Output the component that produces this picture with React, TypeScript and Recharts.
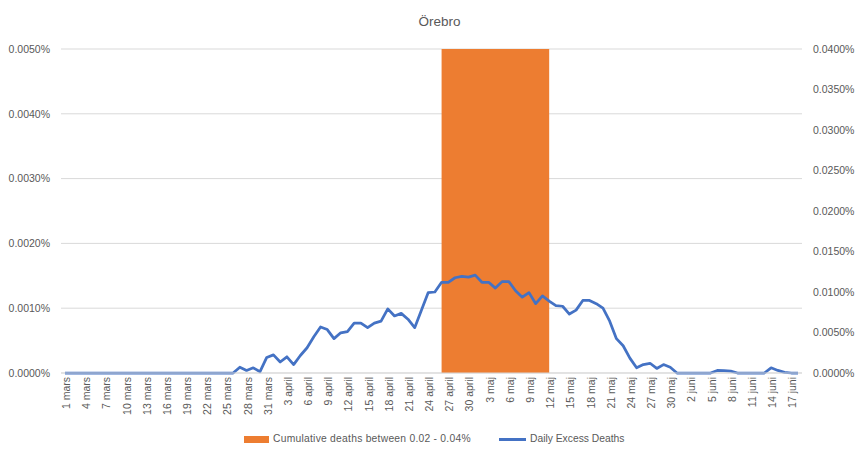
import {
  ComposedChart,
  Area,
  Line,
  XAxis,
  YAxis,
  CartesianGrid,
} from "recharts";

const FONT = '"Liberation Sans", Arial, sans-serif';
const TEXT = "#595959";
const GRID = "#d9d9d9";
const ORANGE = "#ED7D31";
const BLUE = "#4472C4";

// months shown on the x axis and how many days of each
const MONTHS: [string, number][] = [
  ["mars", 31],
  ["april", 30],
  ["maj", 31],
  ["juni", 18],
];
const days = MONTHS.flatMap(([m, n]) =>
  Array.from({ length: n }, (_, i) => `${i + 1} ${m}`)
);

// daily excess deaths, per 100 000 (1 = 0.0010%)
const excessPer100k = [
  0, 0, 0, 0, 0, 0, 0, 0, 0, 0,
  0, 0, 0, 0, 0, 0, 0, 0, 0, 0,
  0, 0, 0, 0, 0, 0, 0.09, 0.04, 0.08, 0.02,
  0.24, 0.28, 0.17, 0.25, 0.13, 0.27, 0.39, 0.56, 0.71, 0.67,
  0.53, 0.62, 0.64, 0.77, 0.77, 0.7, 0.77, 0.8, 0.99, 0.88,
  0.92, 0.83, 0.7, 0.97, 1.24, 1.25, 1.4, 1.4, 1.47, 1.49,
  1.48, 1.51, 1.4, 1.4, 1.31, 1.41, 1.41, 1.27, 1.17, 1.24,
  1.07, 1.19, 1.11, 1.04, 1.03, 0.91, 0.97, 1.12, 1.12, 1.07,
  1.0, 0.8, 0.53, 0.42, 0.23, 0.08, 0.13, 0.15, 0.07, 0.13,
  0.09, 0, 0, 0, 0, 0, 0, 0.04, 0.035, 0.03,
  0, 0, 0, 0, 0, 0.08, 0.04, 0.01, 0, 0,
];

// days where cumulative deaths were between 0.02 and 0.04 %
const bandDays = [
  "26 april", "27 april", "28 april", "29 april", "30 april",
  "1 maj", "2 maj", "3 maj", "4 maj", "5 maj", "6 maj",
  "7 maj", "8 maj", "9 maj", "10 maj", "11 maj",
];
const BAND_LEVEL = 40; // 0.04 %

const leftTicks = [0, 1, 2, 3, 4, 5];
const rightTicks = [0, 5, 10, 15, 20, 25, 30, 35, 40];

const data = days.map((day, i) => ({
  day,
  excess: excessPer100k[i],
  band: bandDays.includes(day) ? BAND_LEVEL : 0,
}));

const fmt = (v: number) => `${(v / 1000).toFixed(4)}%`;

function DayTick({ x, y, payload }: any) {
  return (
    <text
      x={x + 1}
      y={y}
      transform={`rotate(-90 ${x + 1} ${y})`}
      textAnchor="end"
      dominantBaseline="central"
      fill={TEXT}
      fontSize={10.5}
      fontFamily={FONT}
    >
      {payload.value}
    </text>
  );
}

export default function App() {
  return (
    <div
      style={{
        position: "absolute",
        left: 0,
        top: 0,
        width: 863,
        height: 459,
        background: "#fff",
        fontFamily: FONT,
      }}
    >
      <div
        style={{
          position: "absolute",
          top: 13,
          left: 0,
          width: 879,
          height: 18,
          lineHeight: "18px",
          textAlign: "center",
          fontSize: 13.5,
          color: TEXT,
        }}
      >
        Örebro
      </div>

      <ComposedChart
        width={863}
        height={459}
        data={data}
        margin={{ top: 49, right: 0, bottom: 0, left: 0 }}
      >
        <CartesianGrid yAxisId="left" vertical={false} stroke={GRID} />
        <XAxis
          dataKey="day"
          interval={2}
          height={86}
          padding={{ left: 4, right: 4 }}
          axisLine={{ stroke: GRID }}
          tickLine={false}
          tickSize={0}
          tickMargin={4}
          tick={<DayTick />}
        />
        <YAxis
          yAxisId="left"
          orientation="left"
          width={61}
          domain={[0, 5]}
          ticks={leftTicks}
          tickFormatter={fmt}
          axisLine={false}
          tickLine={false}
          tickSize={0}
          tickMargin={11}
          tick={{ fill: TEXT, fontSize: 10.5, fontFamily: FONT }}
        />
        <YAxis
          yAxisId="right"
          orientation="right"
          width={61}
          domain={[0, 40]}
          ticks={rightTicks}
          tickFormatter={fmt}
          axisLine={false}
          tickLine={false}
          tickSize={0}
          tickMargin={11}
          tick={{ fill: TEXT, fontSize: 10.5, fontFamily: FONT }}
        />
        <Area
          yAxisId="right"
          type="stepAfter"
          dataKey="band"
          fill={ORANGE}
          fillOpacity={1}
          stroke="none"
          isAnimationActive={false}
        />
        <Line
          yAxisId="left"
          type="linear"
          dataKey="excess"
          stroke={BLUE}
          strokeWidth={2.75}
          strokeLinejoin="round"
          dot={false}
          isAnimationActive={false}
        />
      </ComposedChart>

      {/* legend */}
      <div
        style={{
          position: "absolute",
          left: 244,
          top: 436,
          width: 25,
          height: 7,
          background: ORANGE,
        }}
      />
      <div
        style={{
          position: "absolute",
          left: 273,
          top: 431,
          lineHeight: "16px",
          fontSize: 10.3,
          letterSpacing: 0.25,
          color: TEXT,
        }}
      >
        Cumulative deaths between 0.02 - 0.04%
      </div>
      <div
        style={{
          position: "absolute",
          left: 499,
          top: 438,
          width: 27,
          height: 3,
          background: BLUE,
        }}
      />
      <div
        style={{
          position: "absolute",
          left: 530,
          top: 431,
          lineHeight: "16px",
          fontSize: 10.3,
          color: TEXT,
        }}
      >
        Daily Excess Deaths
      </div>
    </div>
  );
}
